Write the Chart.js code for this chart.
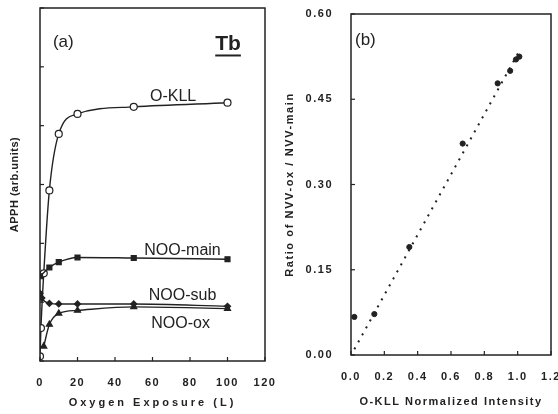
<!DOCTYPE html>
<html>
<head>
<meta charset="utf-8">
<script src="https://cdn.jsdelivr.net/npm/chart.js@4"></script>
<style>
  body { margin: 0; background: #fff; }
  #wrap { position: relative; width: 558px; height: 414px; overflow: hidden; }
  #left { position: absolute; left: 0; top: 0; }
  #right { position: absolute; left: 280px; top: 0; }
</style>
</head>
<body>
<div id="wrap">
  <canvas id="left" width="280" height="414"></canvas>
  <canvas id="right" width="278" height="414"></canvas>
</div>
<script>
// panel (a) - APPH vs oxygen exposure
const okllX = [0, 0.5, 2, 5, 10, 20, 50, 100];
const okllY = [0.08, 0.56, 1.49, 2.9, 3.86, 4.2, 4.32, 4.39];
const mainX = [0, 5, 10, 20, 50, 100];
const mainY = [1.44, 1.59, 1.68, 1.76, 1.75, 1.73];
const subX = [0, 1, 5, 10, 20, 50, 100];
const subY = [1.15, 1.07, 0.98, 0.97, 0.97, 0.97, 0.93];
const oxX = [2, 5, 10, 20, 50, 100];
const oxY = [0.25, 0.62, 0.81, 0.86, 0.92, 0.89];

// panel (b) - ratio vs normalized O-KLL
const ratioX = [0.02, 0.14, 0.35, 0.67, 0.88, 0.955, 0.99, 1.01];
const ratioY = [0.067, 0.072, 0.19, 0.372, 0.478, 0.5, 0.52, 0.525];
const fitX = [0.02, 1.01];
const fitY = [0.01, 0.535];

const pts = (xs, ys) => xs.map((v, i) => ({ x: v, y: ys[i] }));
const ink = '#222';
const tickFont = { family: 'Liberation Sans', size: 11, weight: 'bold' };
const titleFont = { family: 'Liberation Sans', size: 11, weight: 'bold' };

// box round the plot, inward ticks and the text notes
const frame = {
  id: 'frame',
  beforeLayout(chart, args, opts) { chart.ctx.letterSpacing = opts.spacing; },
  beforeDraw(chart, args, opts) { chart.ctx.letterSpacing = opts.spacing; },
  afterDraw(chart, args, opts) {
    const { ctx, chartArea: a, scales: { x, y } } = chart;
    ctx.save();
    ctx.letterSpacing = '0px';
    ctx.strokeStyle = ink;
    ctx.lineWidth = 1.5;
    ctx.strokeRect(a.left, a.top, a.right - a.left, a.bottom - a.top);
    ctx.lineWidth = 1.2;
    x.ticks.forEach(t => {
      const px = x.getPixelForValue(t.value);
      ctx.beginPath(); ctx.moveTo(px, a.bottom); ctx.lineTo(px, a.bottom - 4); ctx.stroke();
    });
    y.ticks.forEach(t => {
      const py = y.getPixelForValue(t.value);
      ctx.beginPath(); ctx.moveTo(a.left, py); ctx.lineTo(a.left + 4, py); ctx.stroke();
    });
    ctx.fillStyle = ink;
    ctx.textBaseline = 'middle';
    (opts.notes || []).forEach(n => {
      ctx.font = n.font;
      ctx.textAlign = n.align || 'center';
      const px = x.getPixelForValue(n.x), py = y.getPixelForValue(n.y);
      ctx.fillText(n.text, px, py);
      if (n.underline) {
        const w = ctx.measureText(n.text).width;
        ctx.lineWidth = 2;
        ctx.beginPath(); ctx.moveTo(px - w / 2, py + 11); ctx.lineTo(px + w / 2, py + 11); ctx.stroke();
      }
    });
    ctx.restore();
  }
};

// fixed axis sizes, and own letter spacing for the axis title
const fixX = (h, sp) => s => {
  s.height = h; s.paddingLeft = 0; s.paddingRight = 0;
  spaced(s, sp);
};
const fixY = (w, sp) => s => {
  s.width = w; s.paddingTop = 0; s.paddingBottom = 0;
  spaced(s, sp);
};
function spaced(s, sp) {
  if (s._spaced) return;
  s._spaced = true;
  const orig = s.drawTitle;
  s.drawTitle = function () {
    const old = this.ctx.letterSpacing;
    this.ctx.letterSpacing = sp;
    orig.apply(this, arguments);
    this.ctx.letterSpacing = old;
  };
}

new Chart(document.getElementById('left'), {
  type: 'scatter',
  plugins: [frame],
  data: {
    datasets: [
      { data: pts(mainX, mainY), pointStyle: 'rect', pointRadius: 3.5, backgroundColor: ink, borderColor: ink },
      { data: pts(subX, subY), pointStyle: 'rectRot', pointRadius: 3, backgroundColor: ink, borderColor: ink },
      { data: pts(oxX, oxY), pointStyle: 'triangle', pointRadius: 3.5, backgroundColor: ink, borderColor: ink },
      { data: pts(okllX, okllY), pointStyle: 'circle', pointRadius: 3.5, backgroundColor: '#fff', borderColor: ink }
    ].map(d => Object.assign(d, { showLine: true, borderWidth: 1.4, cubicInterpolationMode: 'monotone', pointBorderWidth: 1.2 }))
  },
  options: {
    responsive: false,
    animation: false,
    layout: { padding: { left: 0, top: 8, right: 15, bottom: 0 } },
    plugins: {
      legend: { display: false },
      tooltip: { enabled: false },
      frame: {
        spacing: '1.5px',
        notes: [
          { text: '(a)', x: 6.9, y: 5.42, font: '17px "Liberation Sans"', align: 'left' },
          { text: 'Tb', x: 100.3, y: 5.38, font: 'bold 21px "Liberation Sans"', underline: true },
          { text: 'O-KLL', x: 71, y: 4.5, font: '16px "Liberation Sans"' },
          { text: 'NOO-main', x: 76, y: 1.88, font: '16px "Liberation Sans"' },
          { text: 'NOO-sub', x: 76, y: 1.12, font: '16px "Liberation Sans"' },
          { text: 'NOO-ox', x: 75, y: 0.64, font: '16px "Liberation Sans"' }
        ]
      }
    },
    scales: {
      x: {
        type: 'linear', min: 0, max: 120,
        afterFit: fixX(53, '3px'),
        border: { display: false },
        grid: { display: false, drawTicks: false },
        ticks: { stepSize: 20, padding: 15.5, color: ink, font: tickFont, maxRotation: 0 },
        title: { display: true, text: 'Oxygen Exposure (L)', color: ink, font: titleFont, padding: { top: 0, bottom: 4 } }
      },
      y: {
        type: 'linear', min: 0, max: 6,
        afterFit: fixY(40, '0.5px'),
        border: { display: false },
        grid: { display: false, drawTicks: false },
        ticks: { stepSize: 1, display: false },
        title: { display: true, text: 'APPH (arb.units)', color: ink, font: titleFont, padding: { top: 8, bottom: 0 } }
      }
    }
  }
});

new Chart(document.getElementById('right'), {
  type: 'scatter',
  plugins: [frame],
  data: {
    datasets: [
      { data: pts(fitX, fitY), showLine: true, borderColor: ink, borderWidth: 2, borderDash: [2, 6], pointRadius: 0 },
      { data: pts(ratioX, ratioY), pointStyle: 'circle', pointRadius: 2.6, backgroundColor: ink, borderColor: ink }
    ]
  },
  options: {
    responsive: false,
    animation: false,
    layout: { padding: { left: 0, top: 14, right: 7, bottom: 0 } },
    plugins: {
      legend: { display: false },
      tooltip: { enabled: false },
      frame: {
        spacing: '1.5px',
        notes: [
          { text: '(b)', x: 0.024, y: 0.554, font: '17px "Liberation Sans"', align: 'left' }
        ]
      }
    },
    scales: {
      x: {
        type: 'linear', min: 0, max: 1.2,
        afterFit: fixX(59, '1.5px'),
        border: { display: false },
        grid: { display: false, drawTicks: false },
        ticks: { stepSize: 0.2, padding: 15.5, color: ink, font: tickFont, maxRotation: 0, callback: v => v.toFixed(1) },
        title: { display: true, text: 'O-KLL Normalized Intensity', color: ink, font: titleFont, padding: { top: 0, bottom: 5.5 } }
      },
      y: {
        type: 'linear', min: 0, max: 0.6,
        afterFit: fixY(71, '1.6px'),
        border: { display: false },
        grid: { display: false, drawTicks: false },
        ticks: { stepSize: 0.15, padding: 18, color: ink, font: tickFont, callback: v => v.toFixed(2) },
        title: { display: true, text: 'Ratio of NVV-ox / NVV-main', color: ink, font: titleFont, padding: { top: 3, bottom: 0 } }
      }
    }
  }
});
</script>
</body>
</html>
